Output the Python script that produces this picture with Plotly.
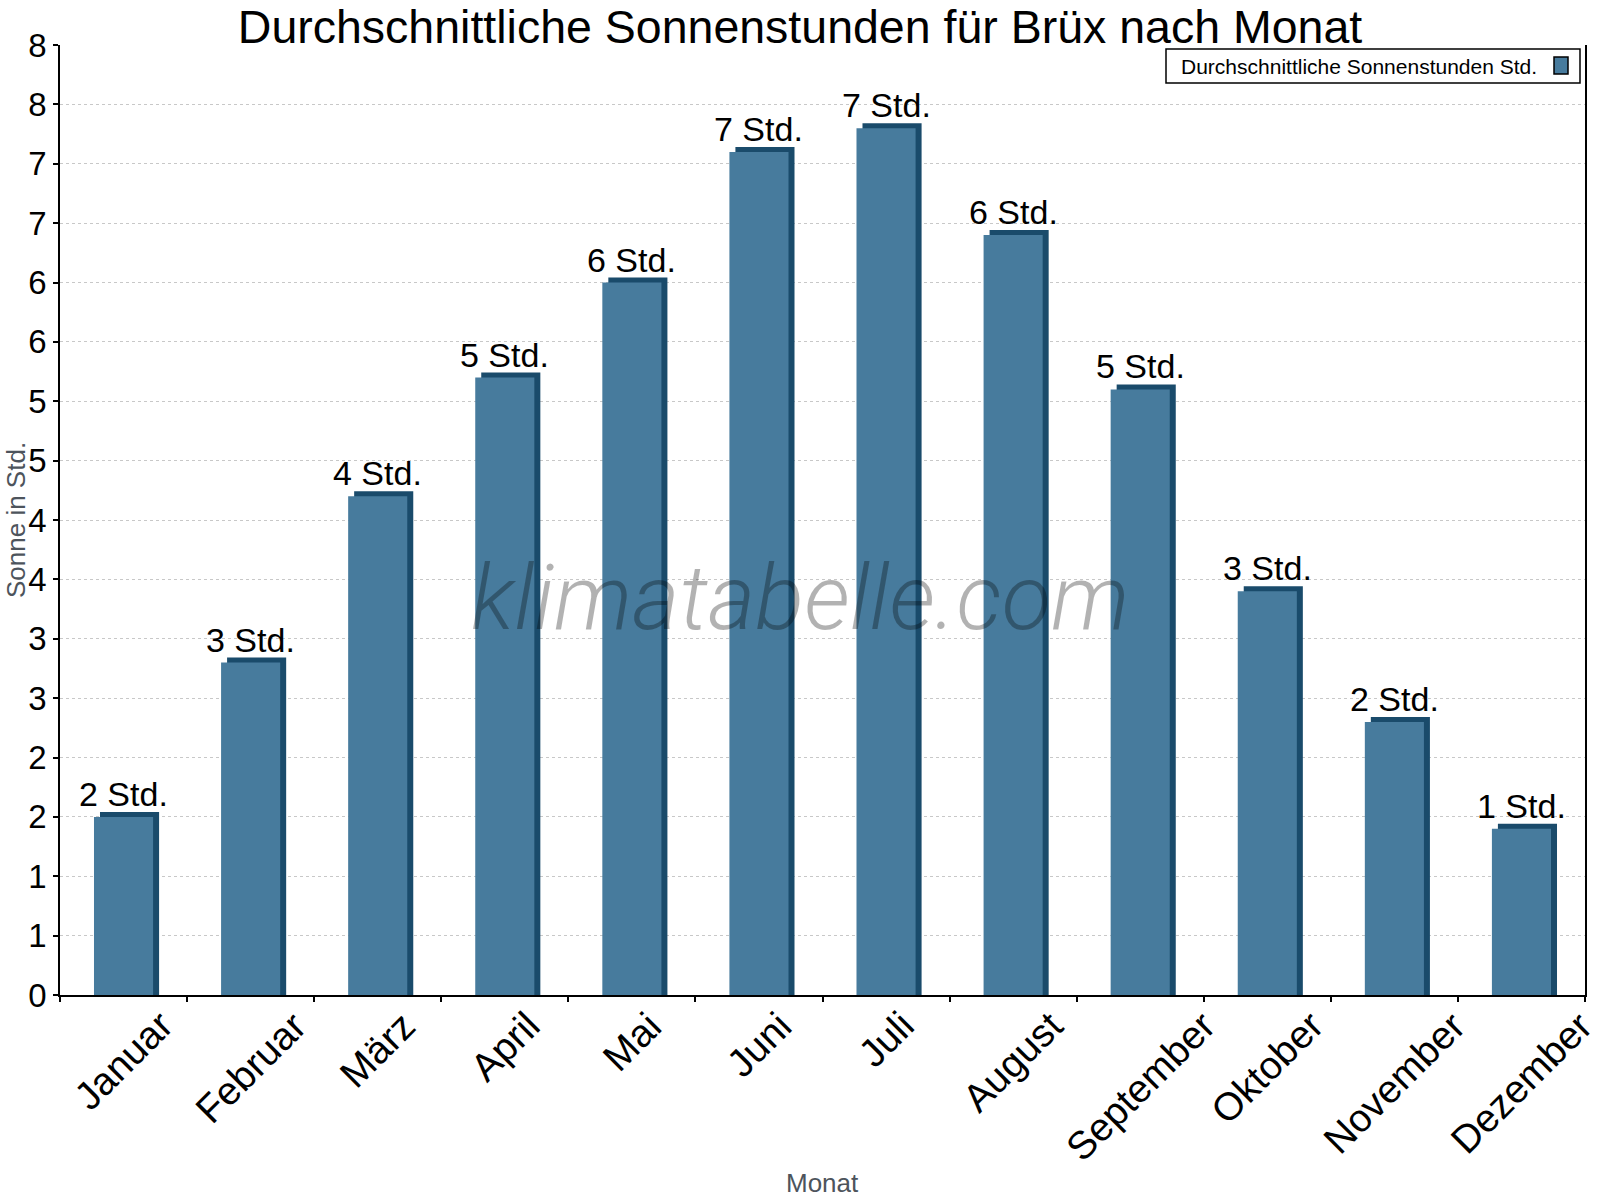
import plotly.graph_objects as go

months = ["Januar", "Februar", "März", "April", "Mai", "Juni", "Juli",
          "August", "September", "Oktober", "November", "Dezember"]
sun_hours = [1.5, 2.8, 4.2, 5.2, 6.0, 7.1, 7.3, 6.4, 5.1, 3.4, 2.3, 1.4]
bar_labels = ["2 Std.", "3 Std.", "4 Std.", "5 Std.", "6 Std.", "7 Std.",
              "7 Std.", "6 Std.", "5 Std.", "3 Std.", "2 Std.", "1 Std."]
y_tickvals = [0, 0.5, 1, 1.5, 2, 2.5, 3, 3.5, 4, 4.5, 5, 5.5, 6, 6.5, 7, 7.5, 8]
y_ticktext = ["0", "1", "1", "2", "2", "3", "3", "4", "4", "5", "5",
              "6", "6", "7", "7", "8", "8"]

FRONT = "#477b9d"
SIDE = "#1a4b6b"
FONT = "Liberation Sans, Arial, sans-serif"

# plot area in px
L, R, T, B = 60, 15, 45, 205
W, H = 1600, 1200
PW, PH = W - L - R, H - T - B

bar_w = 0.465
depth_x = 6 / (PW / 12)      # side-face depth in category units
depth_y = 5 / (PH / 8)       # top-face depth in value units

fig = go.Figure()
# depth (3D side/top faces)
fig.add_trace(go.Bar(
    x=months, y=[v + depth_y for v in sun_hours],
    width=bar_w, offset=-bar_w / 2 + depth_x,
    marker=dict(color=SIDE, line=dict(width=0)),
    showlegend=False, hoverinfo="skip"))
# front faces
fig.add_trace(go.Bar(
    x=months, y=sun_hours, width=bar_w, offset=-bar_w / 2,
    marker=dict(color=FRONT, line=dict(width=0)),
    name="Durchschnittliche Sonnenstunden Std.", showlegend=False))

annotations = []
for m, v, lab in zip(months, sun_hours, bar_labels):
    annotations.append(dict(x=m, y=v, xref="x", yref="y", text=lab,
                            showarrow=False, yanchor="bottom", yshift=2,
                            font=dict(family=FONT, size=34, color="black")))
for m in months:
    annotations.append(dict(x=m, y=-0.006, xref="x", yref="paper", text=m,
                            showarrow=False, yanchor="top", xanchor="center",
                            textangle=-45,
                            font=dict(family=FONT, size=39, color="black")))
# axis titles
annotations.append(dict(x=(16 - L) / PW, y=0.5, xref="paper", yref="paper",
                        text="Sonne in Std.", textangle=-90, showarrow=False,
                        xanchor="center", yanchor="middle",
                        font=dict(family=FONT, size=26, color="#4d545c")))
annotations.append(dict(x=0.5, y=(PH + T - 1183) / PH, xref="paper", yref="paper",
                        text="Monat", showarrow=False,
                        xanchor="center", yanchor="middle",
                        font=dict(family=FONT, size=26, color="#4d545c")))
# watermark
annotations.append(dict(x=(800 - L) / PW, y=(PH + T - 598) / PH, xref="paper", yref="paper",
                        text="klimatabelle.com", showarrow=False,
                        xanchor="center", yanchor="middle",
                        font=dict(family="Roboto Light, Open Sans Light, Roboto, sans-serif",
                                  size=91, color="rgba(0,0,0,0.3)",
                                  style="italic", weight=300)))
# legend text
annotations.append(dict(x=(1179 - L) / PW, y=(PH + T - 66) / PH, xref="paper", yref="paper",
                        text="Durchschnittliche Sonnenstunden Std.", showarrow=False,
                        xanchor="left", yanchor="middle",
                        font=dict(family=FONT, size=21, color="black")))

shapes = [
    dict(type="rect", xref="paper", yref="paper",
         x0=(1166 - L) / PW, x1=(1580 - L) / PW,
         y0=(PH + T - 83) / PH, y1=(PH + T - 49) / PH,
         line=dict(color="black", width=1.5), fillcolor="white", layer="above"),
    dict(type="rect", xref="paper", yref="paper",
         x0=(1554 - L) / PW, x1=(1568 - L) / PW,
         y0=(PH + T - 74) / PH, y1=(PH + T - 57) / PH,
         line=dict(color="black", width=1.5), fillcolor=FRONT, layer="above"),
]

fig.update_layout(
    width=W, height=H,
    margin=dict(l=L, r=R, t=T, b=B, autoexpand=False),
    paper_bgcolor="white", plot_bgcolor="white",
    barmode="overlay",
    title=dict(text="Durchschnittliche Sonnenstunden für Brüx nach Monat",
               x=0.5, xanchor="center", y=1 - 27 / H, yanchor="middle",
               yref="container",
               font=dict(family=FONT, size=46.5, color="black")),
    annotations=annotations, shapes=shapes,
    xaxis=dict(showline=True, linecolor="black", linewidth=1.5,
               ticks="outside", ticklen=5, tickcolor="black", tickwidth=1.5,
               tickson="boundaries", showticklabels=False, showgrid=False,
               range=[-0.5, 11.5], fixedrange=True),
    yaxis=dict(range=[0, 8], tickvals=y_tickvals, ticktext=y_ticktext,
               showline=True, linecolor="black", linewidth=1.5, mirror=True,
               ticks="outside", ticklen=5, tickcolor="black", tickwidth=1.5,
               showgrid=True, gridcolor="#c8c8c8", griddash="dot", gridwidth=1,
               zeroline=False,
               tickfont=dict(family=FONT, size=33, color="black")),
)

fig.write_html("out.html")
